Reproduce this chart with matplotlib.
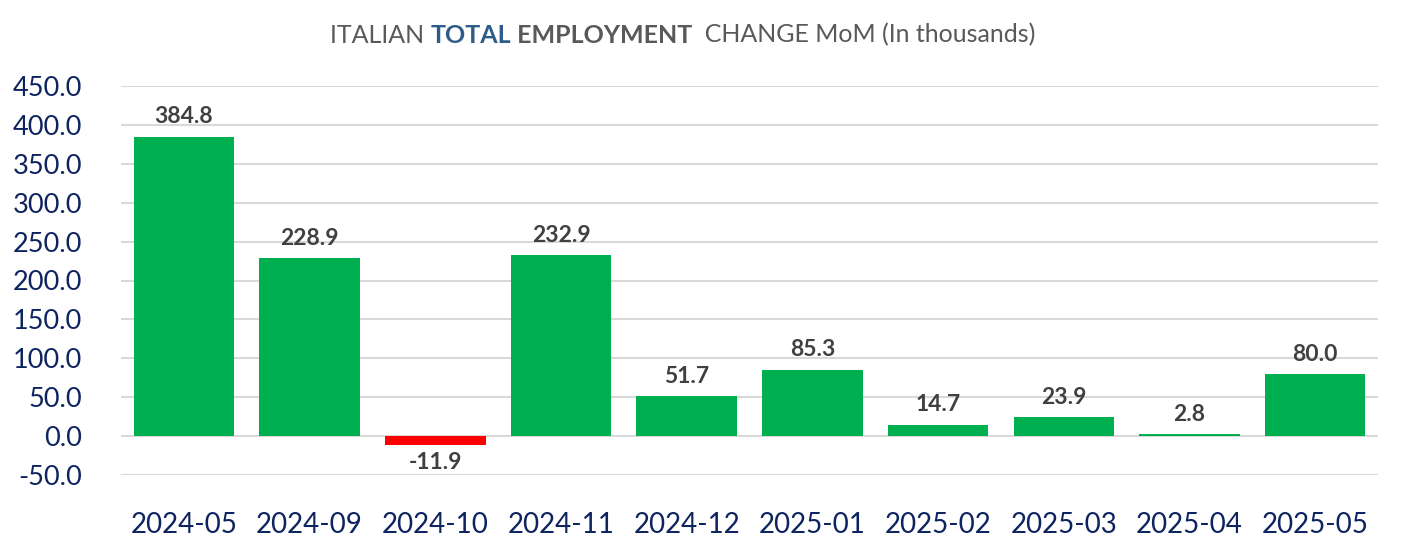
import matplotlib
matplotlib.use('Agg')
import matplotlib.pyplot as plt
import numpy as np

plt.rcParams['font.family'] = ['Lato', 'DejaVu Sans']

# data
months = ['2024-05', '2024-09', '2024-10', '2024-11', '2024-12',
          '2025-01', '2025-02', '2025-03', '2025-04', '2025-05']
change = [384.8, 228.9, -11.9, 232.9, 51.7, 85.3, 14.7, 23.9, 2.8, 80.0]
yticks = [-50, 0, 50, 100, 150, 200, 250, 300, 350, 400, 450]

green = '#00B050'
red = '#FF0000'
navy = '#0D2461'
lab_col = '#404040'

fig = plt.figure(figsize=(14.01, 5.5), dpi=100)
ax = fig.add_axes([0.0864, 0.1364, 0.8972, 0.7072])

x = np.arange(len(months))
cols = [green if v >= 0 else red for v in change]
ax.bar(x, change, width=0.8, color=cols, zorder=3)

for xi, v in zip(x, change):
    if v >= 0:
        ax.text(xi, v + 12, '%.1f' % v, ha='center', va='bottom',
                fontsize=16.5, fontweight='bold', color=lab_col)
    else:
        ax.text(xi, v - 9, '%.1f' % v, ha='center', va='top',
                fontsize=16.5, fontweight='bold', color=lab_col)

ax.set_xlim(-0.5, len(months) - 0.5)
ax.set_ylim(-50, 450)
ax.set_yticks(yticks)
ax.set_yticklabels(['%.1f' % t for t in yticks])
ax.set_xticks(x)
ax.set_xticklabels(months)
ax.tick_params(axis='both', length=0, labelsize=19.5, colors=navy)
ax.tick_params(axis='x', labelsize=20)
ax.tick_params(axis='y', pad=28)
ax.tick_params(axis='x', pad=27)
ax.grid(axis='y', color='#D9D9D9', linewidth=1.5, zorder=0)
for s in ax.spines.values():
    s.set_visible(False)

# title in pieces
gray = '#595959'
t = fig.text(0.2355, 0.936, 'ITALIAN ', fontsize=18, color=gray, va='center')
parts = [('TOTAL', '#2E5C8A', 'bold'), (' EMPLOYMENT', '#595959', 'bold'),
         ('  CHANGE MoM (In thousands)', gray, 'normal')]
for txt, c, w in parts:
    t = ax.annotate(txt, xy=(1, 0), xycoords=t, va='bottom', ha='left',
                    fontsize=18, color=c, fontweight=w)

plt.savefig('out.png', dpi=100)
plt.close()
